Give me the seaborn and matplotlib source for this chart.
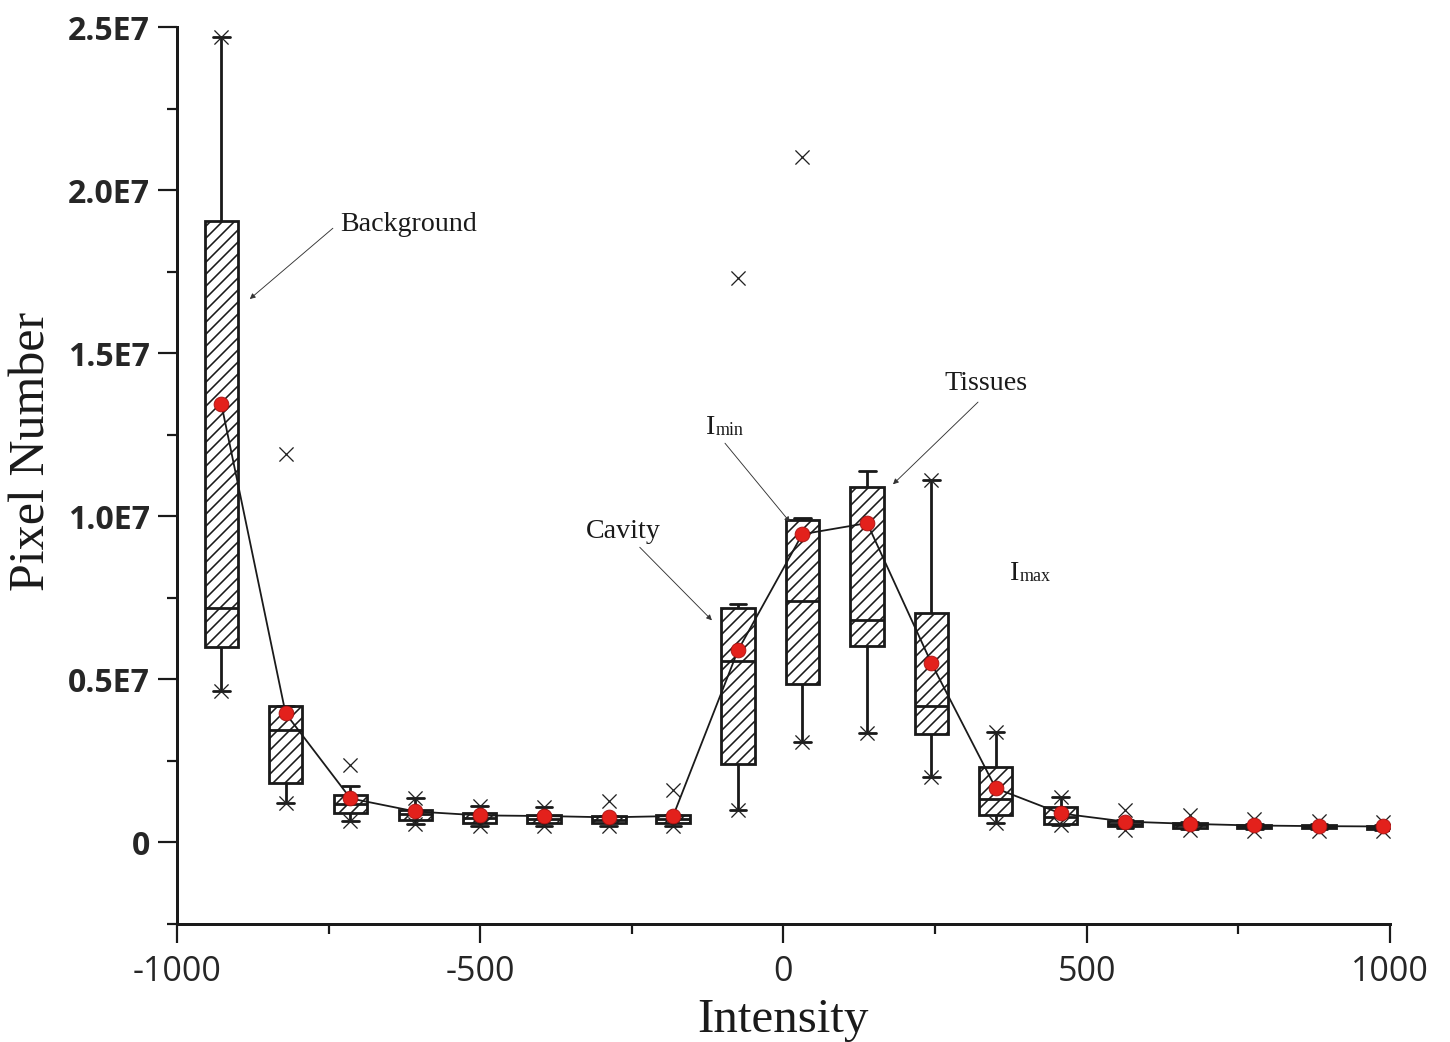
import numpy as np
import pandas as pd
import seaborn as sns
import matplotlib.pyplot as plt

# ---------------------------
# Data (pixel counts in millions)
# ---------------------------

intensity = [-927, -821, -714, -607, -501, -395, -288, -182, -75, 31,
             138, 244, 350, 457, 563, 670, 776, 883, 989]

whisker_lo = [4.63, 1.20, 0.67, 0.58, 0.49, 0.50, 0.50, 0.50, 0.98, 3.07,
              3.37, 2.00, 0.61, 0.52, 0.45, 0.42, 0.40, 0.40, 0.39]
q1 = [6.00, 1.81, 0.89, 0.70, 0.61, 0.59, 0.60, 0.60, 2.39, 4.85,
      6.01, 3.34, 0.83, 0.58, 0.49, 0.45, 0.43, 0.43, 0.42]
median = [7.20, 3.44, 1.17, 0.86, 0.75, 0.72, 0.70, 0.72, 5.55, 7.39,
          6.81, 4.17, 1.32, 0.77, 0.58, 0.52, 0.49, 0.48, 0.46]
q3 = [19.05, 4.17, 1.47, 1.01, 0.89, 0.83, 0.80, 0.83, 7.20, 9.88,
      10.89, 7.02, 2.30, 1.10, 0.67, 0.59, 0.55, 0.53, 0.50]
whisker_hi = [24.70, 4.17, 1.72, 1.35, 1.13, 1.10, 0.80, 0.83, 7.30, 9.95,
              11.38, 11.10, 3.40, 1.38, 0.70, 0.62, 0.58, 0.56, 0.53]
mean = [13.45, 3.96, 1.35, 0.95, 0.83, 0.81, 0.77, 0.81, 5.89, 9.45,
        9.79, 5.49, 1.66, 0.89, 0.64, 0.57, 0.52, 0.50, 0.49]
p_low = [4.63, 1.20, 0.67, 0.58, 0.49, 0.50, 0.50, 0.50, 0.98, 3.07,
         3.37, 2.00, 0.61, 0.52, 0.37, 0.37, 0.35, 0.35, 0.35]
p_high = [24.70, 11.90, 2.36, 1.35, 1.13, 1.10, 1.27, 1.60, 17.30, 21.00,
          np.nan, 11.10, 3.40, 1.38, 0.98, 0.83, 0.73, 0.67, 0.64]

# ---------------------------
# Long-form table for the boxes
# ---------------------------

rows = []
for i, x in enumerate(intensity):
    for v in (whisker_lo[i], q1[i], median[i], q3[i], whisker_hi[i]):
        rows.append({"intensity": x, "pixels": v * 1e6})
df = pd.DataFrame(rows)

marks = pd.DataFrame({
    "intensity": intensity + intensity,
    "pixels": np.array(p_low + p_high) * 1e6,
}).dropna()

# ---------------------------
# Style
# ---------------------------

sns.set_style("ticks")
plt.rcParams["font.family"] = ["Liberation Serif", "DejaVu Serif"]
plt.rcParams["hatch.linewidth"] = 1.6

DPI = 72
fig = plt.figure(figsize=(1450 / DPI, 1042 / DPI), dpi=DPI)
ax = fig.add_axes([177 / 1450, 118 / 1042, 1213 / 1450, 897 / 1042])

# ---------------------------
# Boxes
# ---------------------------

sns.boxplot(
    data=df, x="intensity", y="pixels", orient="x",
    native_scale=True, whis=np.inf, width=0.52,
    color="white", saturation=1, linecolor="#1a1a1a", linewidth=2.8,
    showfliers=False, ax=ax,
)
for p in ax.patches:
    p.set_hatch("//")
    p.set_edgecolor("#1a1a1a")

# percentile markers
sns.scatterplot(data=marks, x="intensity", y="pixels", marker="x",
                s=200, color="#222222", linewidth=1.3, zorder=5, ax=ax)

# mean line and mean points
sns.lineplot(x=intensity, y=np.array(mean) * 1e6, color="#1a1a1a",
             linewidth=1.8, zorder=6, ax=ax)
sns.scatterplot(x=intensity, y=np.array(mean) * 1e6, s=220,
                color="#e3211c", edgecolor="#a51010", linewidth=0.8,
                zorder=7, ax=ax)

# ---------------------------
# Axes
# ---------------------------

ax.set_xlim(-1000, 1000)
ax.set_ylim(-2.5e6, 2.5e7)
ax.set_xticks([-1000, -500, 0, 500, 1000])
ax.set_xticklabels(["-1000", "-500", "0", "500", "1000"])
ax.set_xticks(np.arange(-1000, 1001, 250), minor=True)
ax.set_yticks([0, 5e6, 1e7, 1.5e7, 2e7, 2.5e7])
ax.set_yticklabels(["0", "0.5E7", "1.0E7", "1.5E7", "2.0E7", "2.5E7"])
ax.set_yticks(np.arange(-2.5e6, 2.51e7, 2.5e6), minor=True)

sns.despine(ax=ax)
for s in ("left", "bottom"):
    ax.spines[s].set_linewidth(3)
    ax.spines[s].set_color("#1a1a1a")

ax.tick_params(which="major", length=19, width=2.2, color="#1a1a1a")
ax.tick_params(which="minor", length=10, width=2.2, color="#1a1a1a")
ax.tick_params(axis="y", pad=8)
ax.tick_params(axis="x", pad=12)

for lab in ax.get_yticklabels():
    lab.set_fontfamily("Open Sans")
    lab.set_fontweight("bold")
    lab.set_fontsize(32)
for lab in ax.get_xticklabels():
    lab.set_fontfamily("Open Sans")
    lab.set_fontsize(34)

ax.set_xlabel("Intensity", fontsize=49, color="#1a1a1a")
ax.set_ylabel("Pixel Number", fontsize=50, color="#1a1a1a")
ax.xaxis.set_label_coords(0.5, -0.083)
ax.yaxis.set_label_coords(-0.100, 0.527)

# ---------------------------
# Annotations
# ---------------------------

arrow = dict(arrowstyle="-|>", lw=0.9, color="#333333", mutation_scale=11,
             shrinkA=0, shrinkB=0)
txt = dict(fontsize=28, color="#1a1a1a", va="center", ha="left")

ax.annotate("", xy=(-880, 16.66e6), xytext=(-743, 18.83e6), arrowprops=arrow)
ax.text(-731, 18.96e6, "Background", **txt)

ax.annotate("", xy=(-118, 6.81e6), xytext=(-237, 9.05e6), arrowprops=arrow)
ax.text(-326, 9.54e6, "Cavity", **txt)

ax.annotate("", xy=(10.7, 9.82e6), xytext=(-96.5, 12.24e6), arrowprops=arrow)
t_min = ax.text(-128, 12.73e6, "I", **txt)
ax.annotate("min", xy=(1, 0.04), xycoords=t_min, fontsize=18,
            color="#1a1a1a", va="bottom", ha="left")

ax.annotate("", xy=(180.5, 10.98e6), xytext=(320.7, 13.5e6), arrowprops=arrow)
ax.text(264.6, 14.08e6, "Tissues", **txt)

t_max = ax.text(373.5, 8.25e6, "I", **txt)
ax.annotate("max", xy=(1, 0.04), xycoords=t_max, fontsize=18,
            color="#1a1a1a", va="bottom", ha="left")

fig.savefig("out.png", dpi=DPI)
